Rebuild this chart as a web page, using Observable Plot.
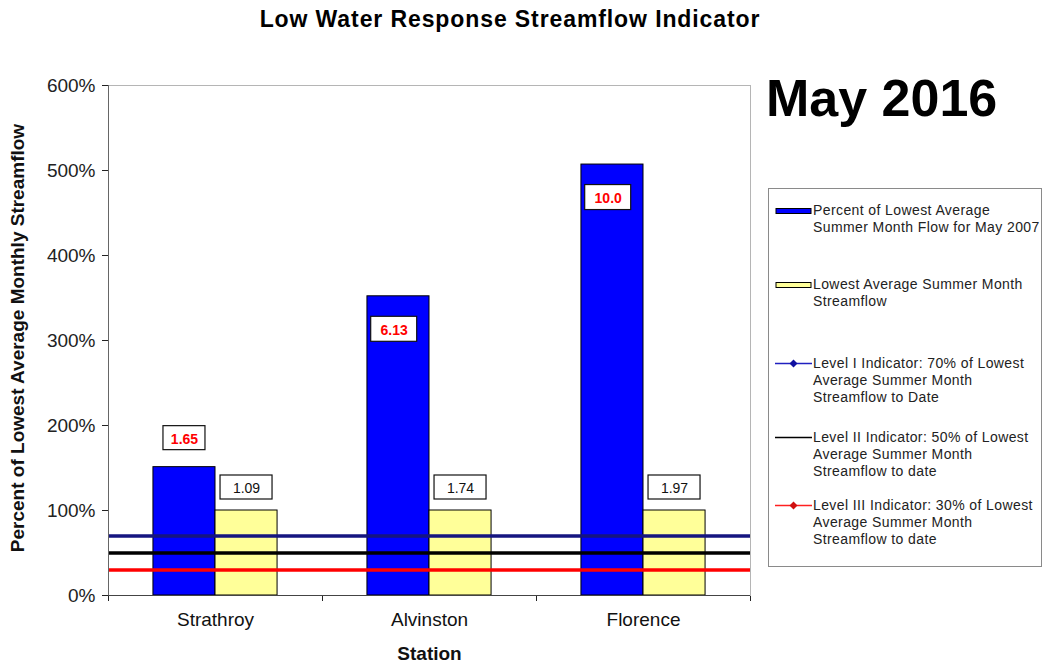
<!DOCTYPE html>
<html>
<head>
<meta charset="utf-8">
<script src="https://cdn.jsdelivr.net/npm/d3@7"></script>
<script src="https://cdn.jsdelivr.net/npm/@observablehq/plot@0.6"></script>
<style>
  html, body { margin: 0; padding: 0; background: #fff; }
  body { font-family: Arial, "Liberation Sans", sans-serif; }
  #wrap { position: relative; width: 1049px; height: 664px; overflow: hidden; }
  #title { position: absolute; left: 0; width: 1020px; top: 6px; text-align: center; font-weight: bold; font-size: 23px; letter-spacing: 0.9px; color: #000; }
  #month { position: absolute; left: 766px; top: 68px; font-weight: bold; font-size: 52px; color: #000; }
  #ylabel { position: absolute; left: 18px; top: 338px; transform: translate(-50%, -50%) rotate(-90deg); white-space: nowrap; font-weight: bold; font-size: 19px; color: #111; }
  #legend { position: absolute; left: 768px; top: 188px; width: 274px; height: 379px; border: 1px solid #8a8a8a; box-sizing: border-box; background: #fff; }
  .item { position: absolute; left: 6px; display: flex; align-items: flex-start; font-size: 14px; letter-spacing: 0.4px; line-height: 17px; color: #222; }
  .item svg { flex: none; margin-right: 0px; }
  #chart { position: absolute; left: 0; top: 0; }
</style>
</head>
<body>
<div id="wrap">
  <div id="chart"></div>
  <div id="title">Low Water Response Streamflow Indicator</div>
  <div id="month">May 2016</div>
  <div id="ylabel">Percent of Lowest Average Monthly Streamflow</div>
  <div id="legend"></div>
</div>
<script>
// ---- data ----
const stations = ["Strathroy", "Alvinston", "Florence"];
const percentOfLowest = [151, 352, 507];          // % of lowest avg summer month flow (May)
const lowestAverage = [100, 100, 100];            // lowest average summer month streamflow (=100%)
const percentLabels = ["1.65", "6.13", "10.0"];   // May flow values (m³/s)
const lowestLabels = ["1.09", "1.74", "1.97"];    // lowest avg summer month flow values (m³/s)
const levelValues = [70, 50, 30];
const levelNames = [
  "Level I Indicator: 70% of Lowest Average Summer Month Streamflow to Date",
  "Level II Indicator: 50% of Lowest Average Summer Month Streamflow to date",
  "Level III Indicator: 30% of Lowest Average Summer Month Streamflow to date"
];
const seriesNames = [
  "Percent of Lowest Average Summer Month Flow for May 2007",
  "Lowest Average Summer Month Streamflow"
];
const yTicks = [0, 100, 200, 300, 400, 500, 600];

// ---- styles ----
const blue = "#0000ff", yellow = "#ffff99";
const levelColors = ["#151580", "#000000", "#ff0000"];
const barW = 0.29;

const rows = stations.map((s, i) => ({
  station: s, pos: i + 0.5,
  pct: percentOfLowest[i], low: lowestAverage[i],
  pctLabel: percentLabels[i], lowLabel: lowestLabels[i]
}));
const levels = levelValues.map((v, i) => ({v, color: levelColors[i]}));

// blue labels: above bar if short, inside near top if tall
const above = rows.filter(d => d.pct < 250);
const inside = rows.filter(d => d.pct >= 250);

function boxedLabel(data, opts) {
  const {x, y, text, dy, w, h, fill, weight} = opts;
  return [
    Plot.rect(data, {x1: x, x2: x, y1: y, y2: y, dy,
      insetLeft: -w / 2, insetRight: -w / 2, insetTop: -h / 2, insetBottom: -h / 2,
      fill: "#fff", stroke: "#111", strokeWidth: 1.2}),
    Plot.text(data, {x, y, text, dy: dy + 1, fill, fontSize: 14, fontWeight: weight,
      fontFamily: "Arial, 'Liberation Sans', sans-serif"})
  ];
}

const chart = Plot.plot({
  width: 1049,
  height: 664,
  marginLeft: 108,
  marginRight: 299,
  marginTop: 85,
  marginBottom: 69,
  style: {fontFamily: "Arial, 'Liberation Sans', sans-serif", fontSize: "19px", color: "#222", background: "transparent"},
  x: {domain: [0, 3], ticks: [0, 1, 2, 3], tickFormat: () => "", tickSize: 6, label: null},
  y: {domain: [0, 600], ticks: yTicks, tickFormat: d => d + "%", tickSize: 6, tickPadding: 7, label: null},
  marks: [
    Plot.frame({stroke: "#b5b5b5"}),
    Plot.rectY(rows, {x1: d => d.pos - barW, x2: d => d.pos, y: "pct", fill: blue, stroke: "#000", strokeWidth: 1}),
    Plot.rectY(rows, {x1: d => d.pos, x2: d => d.pos + barW, y: "low", fill: yellow, stroke: "#000", strokeWidth: 1}),
    Plot.ruleY(levels, {y: "v", stroke: "color", strokeWidth: 3.5}),
    Plot.ruleX([0], {stroke: "#666"}),
    Plot.ruleY([0], {stroke: "#444"}),
    ...boxedLabel(above, {x: d => d.pos - barW / 2, y: "pct", text: "pctLabel", dy: -29, w: 42, h: 24, fill: "#ff0000", weight: "bold"}),
    ...boxedLabel(inside, {x: d => d.pos - barW / 2 - 0.02, y: "pct", text: "pctLabel", dy: 33, w: 46, h: 25, fill: "#ff0000", weight: "bold"}),
    ...boxedLabel(rows, {x: d => d.pos + barW / 2, y: "low", text: "lowLabel", dy: -23, w: 52, h: 24, fill: "#111", weight: "normal"}),
    Plot.text(rows, {x: "pos", y: 0, text: "station", dy: 24, fontSize: 19, fill: "#111"}),
    Plot.text(["Station"], {x: 1.5, y: 0, text: d => d, dy: 58, fontSize: 19, fontWeight: "bold", fill: "#111"})
  ]
});
document.getElementById("chart").appendChild(chart);

// ---- legend ----
const legend = document.getElementById("legend");
const swatches = [
  `<svg width="38" height="17"><rect x="1" y="6.5" width="35" height="5" fill="${blue}" stroke="#000" stroke-width="1"/></svg>`,
  `<svg width="38" height="17"><rect x="1" y="6.5" width="35" height="5" fill="${yellow}" stroke="#000" stroke-width="1"/></svg>`,
  `<svg width="38" height="17"><line x1="0" x2="37" y1="8.5" y2="8.5" stroke="#2020c0" stroke-width="1.5"/><path d="M18.5 4.5 L22.5 8.5 L18.5 12.5 L14.5 8.5Z" fill="#1010a0"/></svg>`,
  `<svg width="38" height="17"><line x1="0" x2="37" y1="8.5" y2="8.5" stroke="#000" stroke-width="1.5"/></svg>`,
  `<svg width="38" height="17"><line x1="0" x2="37" y1="8.5" y2="8.5" stroke="#ff2020" stroke-width="1.5"/><path d="M18.5 4.5 L22.5 8.5 L18.5 12.5 L14.5 8.5Z" fill="#d01010"/></svg>`
];
const names = [...seriesNames, ...levelNames];
const tops = [13, 87, 166, 240, 308];
names.forEach((n, i) => {
  const div = document.createElement("div");
  div.className = "item";
  div.style.top = tops[i] + "px";
  div.innerHTML = swatches[i] + `<span style="width:228px">${n}</span>`;
  legend.appendChild(div);
});
</script>
</body>
</html>
